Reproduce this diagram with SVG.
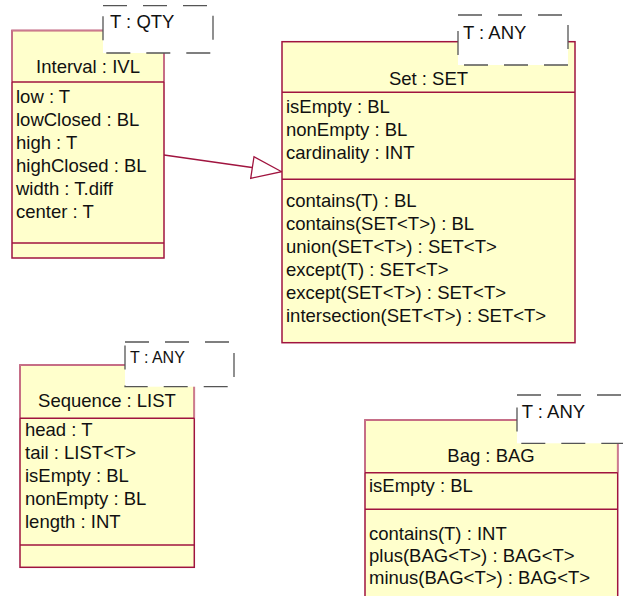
<svg xmlns="http://www.w3.org/2000/svg" width="623" height="596" viewBox="0 0 623 596">
<style>
text{font-family:"Liberation Sans",Arial,sans-serif;font-size:18.5px;fill:#111}
.box{fill:#ffffcc;stroke:#a0143f;stroke-width:1.5}
.nm{fill:none;stroke:#cc7a90;stroke-width:1.5}
.div{stroke:#a0143f;stroke-width:1.5}
.tpl{fill:#fff;stroke:#555;stroke-width:1.3;stroke-dasharray:24 16}
.c{text-anchor:middle}
.conn{fill:none;stroke:#a0143f;stroke-width:1.3}
</style>
<rect width="623" height="596" fill="#fff"/>
<g id="connectors">
<line class="conn" x1="164" y1="155" x2="252" y2="167.5"/>
<polygon points="281.7,171.7 254,156.7 250.7,178.3" fill="#fff" stroke="#a0143f" stroke-width="1.3"/>
</g>
<g id="interval">
<rect class="box" x="12" y="30.5" width="152" height="227.5"/>
<path class="nm" d="M12,82 V30.5 H164 V82"/>
<line class="div" x1="12" y1="82" x2="164" y2="82"/>
<line class="div" x1="12" y1="243" x2="164" y2="243"/>
<rect class="tpl" x="103" y="5.7" width="110" height="47.3"/>
<text x="110" y="28">T : QTY</text>
<text class="c" x="88" y="73">Interval : IVL</text>
<text x="16" y="102.5">low : T</text>
<text x="16" y="125.5">lowClosed : BL</text>
<text x="16" y="148.5">high : T</text>
<text x="16" y="171.5">highClosed : BL</text>
<text x="16" y="194.5">width : T.diff</text>
<text x="16" y="217.5">center : T</text>
</g>
<g id="set">
<rect class="box" x="282" y="41.7" width="293" height="301"/>
<line class="div" x1="282" y1="92.3" x2="575" y2="92.3"/>
<line class="div" x1="282" y1="179.3" x2="575" y2="179.3"/>
<rect class="tpl" x="458" y="15" width="110" height="50"/>
<text x="463" y="39">T : ANY</text>
<text class="c" x="428.5" y="85">Set : SET</text>
<text x="286" y="112.5">isEmpty : BL</text>
<text x="286" y="135.5">nonEmpty : BL</text>
<text x="286" y="158.5">cardinality : INT</text>
<text x="286" y="206.5">contains(T) : BL</text>
<text x="286" y="229.5">contains(SET&lt;T&gt;) : BL</text>
<text x="286" y="252.5">union(SET&lt;T&gt;) : SET&lt;T&gt;</text>
<text x="286" y="275.5">except(T) : SET&lt;T&gt;</text>
<text x="286" y="298.5">except(SET&lt;T&gt;) : SET&lt;T&gt;</text>
<text x="286" y="321.5">intersection(SET&lt;T&gt;) : SET&lt;T&gt;</text>
</g>
<g id="sequence">
<rect class="box" x="20" y="365" width="174.3" height="202.3"/>
<path class="nm" d="M20,418.3 V365 H194.3 V418.3"/>
<line class="div" x1="20" y1="418.3" x2="194.3" y2="418.3"/>
<line class="div" x1="20" y1="545" x2="194.3" y2="545"/>
<rect class="tpl" x="125" y="342" width="109" height="44.7"/>
<text x="130" y="363.3" style="font-size:16px">T : ANY</text>
<text class="c" x="107" y="406.5">Sequence : LIST</text>
<text x="25" y="436">head : T</text>
<text x="25" y="459">tail : LIST&lt;T&gt;</text>
<text x="25" y="482">isEmpty : BL</text>
<text x="25" y="505">nonEmpty : BL</text>
<text x="25" y="528">length : INT</text>
</g>
<g id="bag">
<rect class="box" x="365" y="420" width="252.7" height="190"/>
<path class="nm" d="M365,472.7 V420 H617.7 V472.7"/>
<line class="div" x1="365" y1="472.7" x2="617.7" y2="472.7"/>
<line class="div" x1="365" y1="509.3" x2="617.7" y2="509.3"/>
<rect class="tpl" x="517" y="395" width="110" height="48.3"/>
<text x="521.7" y="418.3">T : ANY</text>
<text class="c" x="491" y="461.5">Bag : BAG</text>
<text x="369" y="491.5">isEmpty : BL</text>
<text x="369" y="539.5">contains(T) : INT</text>
<text x="369" y="561.5">plus(BAG&lt;T&gt;) : BAG&lt;T&gt;</text>
<text x="369" y="583.5">minus(BAG&lt;T&gt;) : BAG&lt;T&gt;</text>
</g>
</svg>
